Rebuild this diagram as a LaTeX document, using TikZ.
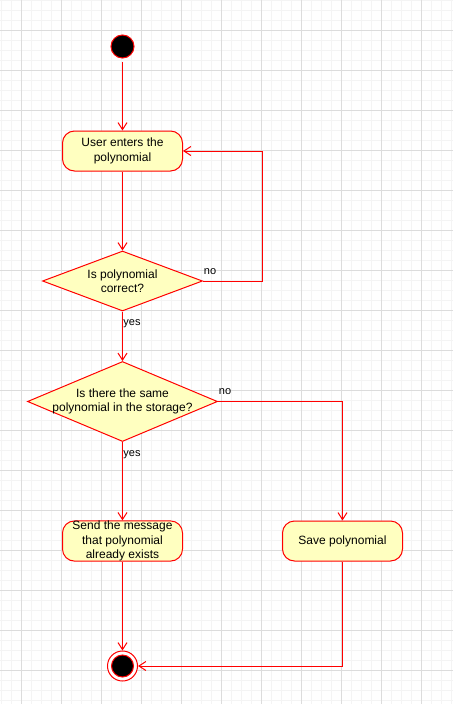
\documentclass[tikz,border=0pt]{standalone}
\usepackage{fontspec}
\setmainfont{Liberation Sans}
\usetikzlibrary{shapes.geometric,arrows.meta}

\definecolor{umlred}{HTML}{FF0000}
\definecolor{umlfill}{HTML}{FFFFC0}
\definecolor{gridminor}{HTML}{F4F4F4}
\definecolor{gridmajor}{HTML}{DCDCDC}

\begin{document}
\begin{tikzpicture}[x=1pt, y=-1pt, line width=1pt,
        activity/.style={draw=umlred, fill=umlfill, rounded corners=12pt, minimum width=120pt, minimum height=40pt, inner sep=0pt, align=center, font=\fontsize{12}{14.5}\selectfont},
        decision/.style={draw=umlred, fill=umlfill, diamond, inner sep=0pt},
        txt/.style={align=center, font=\fontsize{12}{14.5}\selectfont},
        lbl/.style={inner sep=0pt, font=\fontsize{11}{13}\selectfont},
        flow/.style={draw=umlred, -{Straight Barb[length=7pt,width=9pt]}}]
        \useasboundingbox (0,0) rectangle (453,704);
        \fill[white] (0,0) rectangle (453,704);

        % background grid
        \foreach \x in {1.3,11.3,...,451.3} \draw[gridminor, line width=.8pt] (\x,0) -- (\x,704);
        \foreach \y in {0.7,10.7,...,700.7} \draw[gridminor, line width=.8pt] (0,\y) -- (453,\y);
        \foreach \x in {21.3,61.3,...,421.3} \draw[gridmajor, line width=.8pt] (\x,0) -- (\x,704);
        \foreach \y in {30.7,70.7,...,670.7} \draw[gridmajor, line width=.8pt] (0,\y) -- (453,\y);

        \node[circle, draw=umlred, fill=black, minimum size=23pt, inner sep=0pt] (start) at (122.5, 46.5) {};

        \node[activity] (act1) at (122.5, 151) {User enters the\\polynomial};

        \node[decision, minimum width=160pt, minimum height=60pt] (q1) at (122.5, 281) {};
        \node[txt] (q1t) at (q1) {Is polynomial\\correct?};

        \node[decision, minimum width=190pt, minimum height=80pt] (q2) at (122.5, 401.5) {};
        \node[txt] (q2t) at (q2) {Is there the same\\polynomial in the storage?};

        \node[activity] (send) at (122.5, 541) {Send the message\\that polynomial\\already exists};
        \node[activity] (save) at (342.5, 541) {Save polynomial};

        \node[circle, draw=umlred, fill=white, minimum size=30pt, inner sep=0pt] (end) at (122.5, 666) {};
        \node[circle, draw=umlred, fill=black, minimum size=22pt, inner sep=0pt] (endin) at (end) {};

        \node[lbl] (no1) at (210, 272) {no};
        \node[lbl] (yes1) at (132, 324) {yes};
        \node[lbl] (no2) at (225, 391.5) {no};
        \node[lbl] (yes2) at (132, 455) {yes};

        \draw[flow, shorten <=3pt] (start) -- (act1);
        \draw[flow] (act1) -- (q1);
        \draw[flow] (q1.east) -- ++(59.5,0) |- (act1.east);
        \draw[flow] (q1) -- (q2);
        \draw[flow] (q2.east) -| (save);
        \draw[flow] (q2) -- (send);
        \draw[flow] (send) -- (end);
        \draw[flow] (save) |- (end);
\end{tikzpicture}
\end{document}
